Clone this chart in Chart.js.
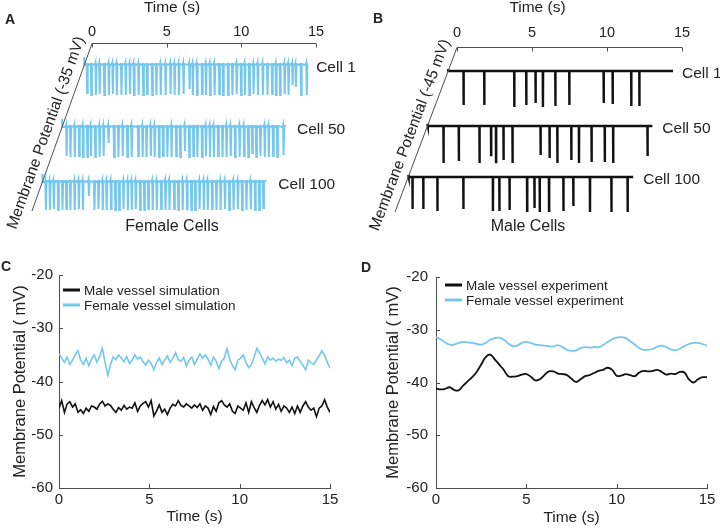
<!DOCTYPE html>
<html><head><meta charset="utf-8">
<script src="https://cdn.jsdelivr.net/npm/chart.js@4.4.1/dist/chart.umd.min.js"></script>
<style>
html,body{margin:0;padding:0;background:#fff;}
#wrap{position:relative;width:720px;height:529px;overflow:hidden;background:#fff;}
canvas{position:absolute;}
</style></head><body>
<div id="wrap">
<canvas id="cA" width="360" height="250" style="left:0;top:0"></canvas>
<canvas id="cB" width="360" height="250" style="left:360px;top:0"></canvas>
<canvas id="cC" width="360" height="269" style="left:0;top:260px"></canvas>
<canvas id="cD" width="360" height="269" style="left:360px;top:260px"></canvas>
</div>
<script>
// ---------------- DATA ----------------
const timeTicks = [0, 5, 10, 15];
const potentialTicks = [-60, -50, -40, -30, -20];
const cellLabels = ['Cell 1', 'Cell 50', 'Cell 100'];

// spike trains: [time (s), spike depth below resting level (mV)]
const femaleCell1 = [[0.18,28],[0.46,30],[0.77,30],[1.02,29],[1.33,30],[1.64,30],[1.90,29],[2.17,30],[2.48,30],[2.77,30],[3.05,29],[3.32,30],[3.63,30],[3.94,30],[4.20,29],[4.54,30],[4.82,30],[5.11,30],[5.44,30],[5.77,29],[6.04,30],[6.33,30],[6.64,29],[7.04,24],[7.26,30],[7.54,30],[7.88,29],[8.14,30],[8.41,30],[8.72,30],[9.03,29],[9.29,30],[9.62,30],[9.91,30],[10.20,29],[10.49,30],[10.75,30],[11.04,30],[11.33,29],[11.62,30],[11.95,30],[12.26,30],[12.57,29],[12.83,30],[13.10,30],[13.41,29],[13.67,30],[13.94,20],[14.16,22],[14.51,30],[14.89,30]];
const femaleCell50 = [[0.29,29],[0.55,30],[0.84,30],[1.13,29],[1.39,30],[1.68,30],[1.92,29],[2.21,30],[2.50,30],[2.77,29],[3.10,16],[3.47,30],[3.76,30],[4.05,29],[4.36,30],[4.65,30],[5.09,29],[5.38,30],[5.64,30],[5.93,29],[6.19,30],[6.48,30],[6.75,29],[7.04,30],[7.32,30],[7.63,29],[7.90,30],[8.21,24],[8.50,30],[8.78,29],[9.05,30],[9.36,30],[9.62,29],[9.89,30],[10.15,30],[10.44,29],[10.73,30],[11.00,30],[11.28,29],[11.57,30],[11.88,30],[12.17,29],[12.46,30],[12.72,26],[12.99,30],[13.27,29],[13.56,30],[13.83,30],[14.12,29],[14.40,30],[14.82,28]];
const femaleCell100 = [[0.22,28],[0.49,28],[0.75,27],[1.04,28],[1.33,28],[1.59,27],[1.86,28],[2.15,28],[2.43,27],[2.70,28],[3.10,14],[3.47,28],[3.74,27],[4.03,28],[4.29,28],[4.58,27],[4.87,28],[5.13,28],[5.42,27],[5.71,28],[5.97,28],[6.24,27],[6.53,28],[6.81,28],[7.08,27],[7.37,28],[7.65,28],[7.94,27],[8.23,28],[8.50,28],[8.81,27],[9.09,28],[9.38,28],[9.67,27],[9.96,28],[10.22,28],[10.51,27],[10.80,28],[11.06,28],[11.35,27],[11.64,28],[11.92,28],[12.21,27],[12.50,28],[12.79,28],[13.08,27],[13.36,28],[13.65,28],[13.94,27],[14.23,28],[14.51,28],[14.78,26]];

const maleCell1 = [[1.04,34],[2.42,34],[4.42,36],[5.22,34],[5.84,32],[6.33,36],[7.16,35],[8.09,34],[10.38,32],[10.98,33],[12.22,35],[12.76,35]];
const maleCell50 = [[1.08,37],[2.10,35],[3.48,37],[4.25,29],[4.58,36],[5.08,34],[5.68,37],[7.55,29],[8.15,32],[8.67,37],[9.60,34],[10.11,37],[10.95,36],[11.83,36],[12.39,37],[14.68,30]];
const maleCell100 = [[0.29,32],[1.01,32],[1.95,34],[3.68,32],[5.65,34],[6.08,34],[6.76,33],[7.93,34],[8.42,31],[8.77,35],[9.39,35],[10.35,34],[11.01,29],[12.12,35],[13.55,35],[14.63,36]];

// panel C: simulation traces (s, mV)
const timeC = [0,0.15,0.3,0.45,0.6,0.75,0.9,1.05,1.2,1.35,1.5,1.65,1.8,1.95,2.1,2.25,2.4,2.55,2.7,2.85,3,3.15,3.3,3.45,3.6,3.75,3.9,4.05,4.2,4.35,4.5,4.65,4.8,4.95,5.1,5.25,5.4,5.55,5.7,5.85,6,6.15,6.3,6.45,6.6,6.75,6.9,7.05,7.2,7.35,7.5,7.65,7.8,7.95,8.1,8.25,8.4,8.55,8.7,8.85,9,9.15,9.3,9.45,9.6,9.75,9.9,10.05,10.2,10.35,10.5,10.65,10.8,10.95,11.1,11.25,11.4,11.55,11.7,11.85,12,12.15,12.3,12.45,12.6,12.75,12.9,13.05,13.2,13.35,13.5,13.65,13.8,13.95,14.1,14.25,14.4,14.55,14.7,14.85,15];
const maleSimulation = [-45.0,-43.6,-45.8,-44.2,-43.8,-44.8,-44.2,-45.8,-45.3,-46.0,-45.0,-45.6,-44.6,-44.8,-45.2,-44.2,-43.7,-44.6,-44.2,-44.5,-45.2,-45.8,-44.9,-45.4,-44.5,-45.2,-44.8,-45.0,-44.0,-45.6,-44.6,-44.1,-43.8,-44.8,-43.6,-46.5,-45.5,-44.4,-45.8,-45.2,-46.2,-45.0,-44.3,-44.6,-43.6,-44.5,-44.8,-44.2,-44.6,-45.0,-44.4,-44.9,-44.2,-45.4,-44.6,-45.0,-46.2,-44.7,-45.6,-44.0,-43.6,-44.4,-44.8,-44.2,-45.6,-46.0,-44.6,-45.0,-45.4,-44.0,-45.8,-43.8,-44.9,-45.8,-44.5,-43.6,-44.4,-43.4,-44.8,-43.8,-45.2,-44.3,-45.6,-44.6,-45.0,-45.8,-44.8,-46.0,-44.6,-45.8,-44.6,-43.8,-44.8,-45.4,-45.0,-46.6,-45.0,-44.6,-43.4,-44.8,-45.8];
const femaleSimulation = [-34.8,-35.6,-36.4,-35.4,-36.8,-36.0,-35.0,-34.2,-36.0,-36.8,-35.6,-37.0,-35.8,-35.0,-36.4,-35.2,-33.8,-36.4,-38.8,-36.8,-35.4,-35.9,-35.0,-35.6,-36.3,-35.3,-36.6,-36.0,-35.0,-35.8,-35.4,-36.3,-36.9,-36.0,-36.6,-37.8,-36.4,-35.6,-36.8,-36.0,-35.2,-36.4,-35.6,-34.6,-35.9,-36.2,-35.5,-37.1,-36.0,-35.4,-36.8,-35.8,-34.8,-35.6,-35.0,-35.8,-37.0,-35.4,-36.2,-37.6,-36.2,-35.6,-33.8,-35.8,-37.0,-37.8,-36.0,-35.6,-35.0,-36.4,-37.4,-36.8,-35.4,-33.8,-34.6,-35.6,-36.7,-35.4,-36.0,-35.6,-36.2,-35.8,-36.0,-35.5,-36.5,-36.0,-37.0,-35.6,-35.4,-36.2,-36.9,-37.8,-36.0,-36.5,-36.8,-35.9,-35.2,-34.2,-35.1,-36.4,-37.5];

// panel D: experiment traces (s, mV)
const timeD = [0,0.25,0.5,0.75,1,1.25,1.5,1.75,2,2.25,2.5,2.75,3,3.25,3.5,3.75,4,4.25,4.5,4.75,5,5.25,5.5,5.75,6,6.25,6.5,6.75,7,7.25,7.5,7.75,8,8.25,8.5,8.75,9,9.25,9.5,9.75,10,10.25,10.5,10.75,11,11.25,11.5,11.75,12,12.25,12.5,12.75,13,13.25,13.5,13.75,14,14.25,14.5,14.75,15];
const maleExperiment = [-41.1,-41.3,-41.2,-40.9,-41.4,-41.5,-40.6,-39.8,-39.0,-38.0,-36.6,-35.2,-34.7,-35.6,-36.6,-37.6,-38.8,-38.9,-38.8,-38.5,-38.4,-38.9,-39.6,-39.4,-38.6,-37.9,-37.9,-38.3,-38.4,-38.6,-39.3,-39.9,-39.4,-38.8,-38.6,-38.2,-37.8,-37.6,-37.2,-37.6,-38.7,-38.7,-38.4,-38.6,-38.8,-38.1,-37.8,-37.9,-37.8,-37.6,-38.0,-38.5,-38.3,-38.4,-38.0,-38.1,-39.4,-40.0,-39.4,-39.0,-39.0];
const femaleExperiment = [-31.4,-31.8,-32.4,-32.8,-32.8,-32.5,-32.3,-32.4,-32.5,-32.7,-32.8,-32.5,-31.9,-31.6,-31.5,-31.9,-32.6,-33.1,-33.0,-32.5,-32.3,-32.5,-32.8,-32.9,-33.0,-33.1,-33.2,-32.9,-33.3,-33.8,-34.0,-33.9,-33.5,-33.3,-33.4,-33.3,-33.3,-32.9,-32.3,-31.8,-31.5,-31.4,-31.6,-32.2,-32.8,-33.5,-33.8,-33.8,-33.6,-33.2,-33.0,-33.3,-33.7,-33.9,-33.6,-33.1,-32.7,-32.5,-32.5,-32.7,-33.0];

// ---------------- STYLE / LAYOUT ----------------
const FONT = '"Liberation Sans", Arial, Helvetica, sans-serif';
const BLUE = '#74c8ee';
const BLACK = '#111111';
const AXIS = '#4d4d4d';
const TEXT = '#222222';
Chart.defaults.font.family = FONT;
Chart.defaults.color = TEXT;
Chart.defaults.animation = false;
function f(size, weight) { return (weight || '') + ' ' + size + 'px ' + FONT; }

// trace shapes built from spike lists
function femaleShape(spikes, shift, base) {
  const pts = [{x: shift, y: base + 8}, {x: shift + 0.02, y: base}];
  spikes.forEach(([t, d]) => {
    pts.push({x: shift + t - 0.05, y: base});
    pts.push({x: shift + t - 0.015, y: base + 2});
    pts.push({x: shift + t + 0.02, y: base - d});
    pts.push({x: shift + t + 0.06, y: base + 1});
  });
  pts.push({x: shift + 15, y: base + 1});
  return pts;
}
function maleShape(spikes, shift, base) {
  const pts = [{x: shift, y: base + 2}, {x: shift + 0.03, y: base}];
  spikes.forEach(([t, d]) => {
    pts.push({x: shift + t - 0.01, y: base});
    pts.push({x: shift + t, y: base - d});
    pts.push({x: shift + t + 0.01, y: base});
  });
  pts.push({x: shift + 15, y: base});
  return pts;
}

const spikeDeco = {
  id: 'spikeDeco',
  afterDraw(chart, args, o) {
    const {ctx, chartArea: ca, scales: {x, y}} = chart;
    ctx.save();
    ctx.strokeStyle = AXIS; ctx.lineWidth = 1;
    const top = Math.round(ca.top) + 0.5;
    const x0 = x.getPixelForValue(0);
    const xb = x.getPixelForValue(o.diagT), yb = y.getPixelForValue(o.yMin);
    ctx.beginPath();
    ctx.moveTo(x0, top); ctx.lineTo(x.getPixelForValue(15), top);
    ctx.moveTo(x0, top); ctx.lineTo(xb, yb);
    timeTicks.forEach(v => { const p = Math.round(x.getPixelForValue(v)) + 0.5; ctx.moveTo(p, top); ctx.lineTo(p, top + 4); });
    ctx.stroke();
    // membrane potential label along the slanted axis
    const fr = 0.56;
    const mx = x0 + (xb - x0) * fr, my = top + (yb - top) * fr;
    const ang = Math.atan2(top - yb, x0 - xb);
    const len = Math.hypot(x0 - xb, yb - top);
    const nx = (top - yb) / len, ny = -(x0 - xb) / len; // left normal
    ctx.translate(mx + nx * 13, my + ny * 13);
    ctx.rotate(ang);
    ctx.fillStyle = TEXT; ctx.font = f(15.5); ctx.textAlign = 'center'; ctx.textBaseline = 'middle';
    ctx.fillText(o.axisLabel, 0, 0);
    ctx.setTransform(1, 0, 0, 1, 0, 0);
    // cell labels
    ctx.textAlign = 'left'; ctx.font = f(15.5);
    chart.data.datasets.forEach((ds, i) => {
      ctx.fillText(ds.label, x.getPixelForValue(ds.shift + 15) + o.labelGap[i], y.getPixelForValue(ds.base) + 3);
    });
    ctx.textAlign = 'center'; ctx.font = f(16);
    ctx.fillText(o.groupLabel, o.groupX, o.groupY);
    ctx.font = f(14, 'bold'); ctx.textAlign = 'left';
    ctx.fillText(o.letter, o.letterX, o.letterY);
    ctx.restore();
  }
};

function spikePanel(id, c) {
  const datasets = c.rows.map((spikes, i) => {
    const base = c.baselines[i];
    const shift = c.diagT * base / c.yMin;
    return {label: cellLabels[i], data: c.shape(spikes, shift, base), borderColor: c.color,
      borderWidth: c.lineWidth, pointRadius: 0, tension: 0, fill: false, shift: shift, base: base};
  });
  new Chart(document.getElementById(id), {
    type: 'line',
    data: {datasets},
    options: {
      responsive: false, devicePixelRatio: 1, animation: false,
      layout: {padding: c.padding},
      plugins: {legend: {display: false}, tooltip: {enabled: false}, spikeDeco: c.deco},
      scales: {
        x: {type: 'linear', position: 'top', min: c.xMin, max: 15,
          afterBuildTicks: s => { s.ticks = timeTicks.map(v => ({value: v})); },
          afterFit: s => { s.height = c.axisHeight; },
          grid: {display: false, drawTicks: false}, border: {display: false},
          ticks: {font: {size: 14.5}, padding: c.tickPad, color: TEXT, maxRotation: 0},
          title: {display: true, text: 'Time (s)', font: {size: 15.5, lineHeight: 1}, padding: {top: 0, bottom: 0}, color: TEXT}},
        y: {type: 'linear', display: false, min: c.yMin, max: 0}
      }
    },
    plugins: [spikeDeco]
  });
}

spikePanel('cA', {
  rows: [femaleCell1, femaleCell50, femaleCell100], shape: femaleShape, color: BLUE, lineWidth: 2,
  baselines: [-22, -84, -139], yMin: -168, diagT: -4.02, xMin: -4.286,
  padding: {left: 28, right: 44, top: 0, bottom: 39}, axisHeight: 43, tickPad: 2.6,
  deco: {diagT: -4.02, yMin: -168, axisLabel: 'Membrane Potential (-35 mV)', labelGap: [8, 11, 12],
    groupLabel: 'Female Cells', groupX: 172, groupY: 227, letter: 'A', letterX: 5, letterY: 20}
});
spikePanel('cB', {
  rows: [maleCell1, maleCell50, maleCell100], shape: maleShape, color: BLACK, lineWidth: 2.4,
  baselines: [-24, -79, -130], yMin: -165, diagT: -4.13, xMin: -4.267,
  padding: {left: 33, right: 38, top: 0, bottom: 38}, axisHeight: 47, tickPad: 5.3,
  deco: {diagT: -4.13, yMin: -165, axisLabel: 'Membrane Potential (-45 mV)', labelGap: [9, 10, 10],
    groupLabel: 'Male Cells', groupX: 168, groupY: 227, letter: 'B', letterX: 13, letterY: 19}
});

const traceDeco = {
  id: 'traceDeco',
  afterDraw(chart, args, o) {
    const {ctx, chartArea: ca, scales: {x, y}} = chart;
    ctx.save();
    ctx.strokeStyle = AXIS; ctx.lineWidth = 1;
    ctx.beginPath();
    timeTicks.forEach(v => { const p = Math.round(x.getPixelForValue(v)) + 0.5; ctx.moveTo(p, ca.bottom); ctx.lineTo(p, ca.bottom - 4); });
    potentialTicks.forEach(v => { const p = Math.round(y.getPixelForValue(v)) + 0.5; ctx.moveTo(ca.left, p); ctx.lineTo(ca.left + 4, p); });
    ctx.stroke();
    // legend
    ctx.font = f(o.legendFont); ctx.textBaseline = 'middle'; ctx.textAlign = 'left'; ctx.fillStyle = TEXT;
    chart.data.datasets.forEach((ds, i) => {
      const yy = ca.top + o.legendDy + i * 15;
      ctx.strokeStyle = ds.borderColor; ctx.lineWidth = 3;
      ctx.beginPath(); ctx.moveTo(ca.left + o.legendDx, yy); ctx.lineTo(ca.left + o.legendDx + 17, yy); ctx.stroke();
      ctx.fillText(ds.label, ca.left + o.legendDx + 21, yy + 1);
    });
    ctx.font = f(14, 'bold');
    ctx.fillText(o.letter, o.letterX, o.letterY);
    ctx.restore();
  }
};

function tracePanel(id, c) {
  new Chart(document.getElementById(id), {
    type: 'line',
    data: {datasets: [
      {label: c.labels[0], data: c.time.map((t, i) => ({x: t, y: c.male[i]})), borderColor: BLACK, borderWidth: c.lw, pointRadius: 0, tension: c.tension, fill: false},
      {label: c.labels[1], data: c.time.map((t, i) => ({x: t, y: c.female[i]})), borderColor: BLUE, borderWidth: c.lw, pointRadius: 0, tension: c.tension, fill: false}
    ]},
    options: {
      responsive: false, devicePixelRatio: 1, animation: false,
      layout: {padding: {left: 0, right: c.padRight, top: 14, bottom: 0}},
      plugins: {legend: {display: false}, tooltip: {enabled: false}, traceDeco: c.deco},
      scales: {
        x: {type: 'linear', min: 0, max: 15,
          afterBuildTicks: s => { s.ticks = timeTicks.map(v => ({value: v})); },
          afterFit: s => { s.height = 41; },
          grid: {display: false, drawTicks: false}, border: {display: true, color: AXIS, width: 1},
          ticks: {font: {size: 15}, padding: 3, color: TEXT, maxRotation: 0},
          title: {display: true, text: 'Time (s)', font: {size: 15.5}, padding: {top: 0, bottom: c.xTitlePad}, color: TEXT}},
        y: {type: 'linear', min: -60, max: -20,
          afterBuildTicks: s => { s.ticks = potentialTicks.map(v => ({value: v})); },
          afterFit: s => { s.width = c.yWidth; },
          grid: {display: false, drawTicks: false}, border: {display: true, color: AXIS, width: 1},
          ticks: {font: {size: 15}, padding: c.yTickPad, color: TEXT},
          title: {display: true, text: 'Membrane Potential ( mV)', font: {size: 16.5}, padding: {top: c.yTitlePad, bottom: 0}, color: TEXT}}
      }
    },
    plugins: [traceDeco]
  });
}

tracePanel('cC', {
  time: timeC, male: maleSimulation, female: femaleSimulation, tension: 0, lw: 1.6,
  labels: ['Male vessel simulation', 'Female vessel simulation'],
  padRight: 30, yWidth: 59, yTickPad: 6, yTitlePad: 10.1, xTitlePad: 2.7,
  deco: {legendDx: 4, legendDy: 15, legendFont: 13.5, letter: 'C', letterX: 1, letterY: 7}
});
tracePanel('cD', {
  time: timeD, male: maleExperiment, female: femaleExperiment, tension: 0.4, lw: 1.8,
  labels: ['Male vessel experiment', 'Female vessel experiment'],
  padRight: 13, yWidth: 76, yTickPad: 8, yTitlePad: 23.6, xTitlePad: 1.7,
  deco: {legendDx: 9, legendDy: 8, legendFont: 13.5, letter: 'D', letterX: 1, letterY: 8}
});
</script>
</body></html>
